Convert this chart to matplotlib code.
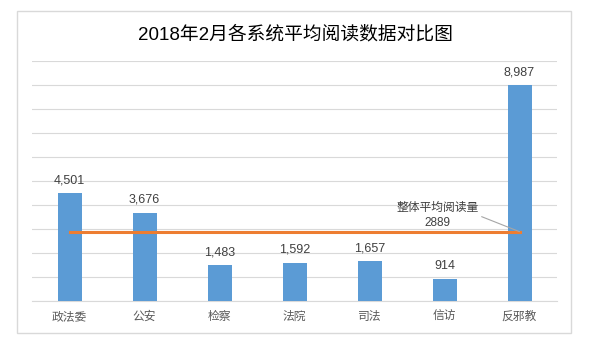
import matplotlib
matplotlib.use("Agg")
import matplotlib.pyplot as plt
from matplotlib.patches import Rectangle

plt.rcParams['font.family'] = ['Liberation Sans', 'Noto Sans CJK SC', 'DejaVu Sans']

categories = ["政法委", "公安", "检察", "法院", "司法", "信访", "反邪教"]
values = [4501, 3676, 1483, 1592, 1657, 914, 8987]
average = 2889
avg_label = "整体平均阅读量"
title = "2018年2月各系统平均阅读数据对比图"

W, H = 590, 353
fig = plt.figure(figsize=(W / 100, H / 100), dpi=100)
fig.patch.set_facecolor("white")

# outer chart border
fig.patches.append(Rectangle((17 / W, 1 - 333 / H), (571 - 17) / W, (333 - 11) / H,
                             transform=fig.transFigure, fill=False,
                             edgecolor="#d9d9d9", linewidth=1))

ax = fig.add_axes([32 / W, 1 - 301 / H, (557 - 32) / W, (301 - 61) / H])
x = list(range(len(categories)))
ax.bar(x, values, width=0.32, color="#5b9bd5", zorder=3)
ax.plot(x, [average] * len(x), color="#ed7d31", linewidth=2.2, zorder=4)

ax.set_xlim(-0.5, len(categories) - 0.5)
ax.set_ylim(0, 10000)
ax.set_yticks(range(0, 10001, 1000))
ax.yaxis.grid(True, color="#d9d9d9", linewidth=0.8, zorder=0)
ax.tick_params(axis="y", left=False, labelleft=False)
ax.set_xticks(x)
ax.set_xticklabels(categories, fontsize=8.5, color="#595959")
ax.tick_params(axis="x", length=0, pad=7)
for s in ["top", "right", "left"]:
    ax.spines[s].set_visible(False)
ax.spines["bottom"].set_color("#d9d9d9")

for xi, v in zip(x, values):
    ax.annotate(f"{v:,}", (xi, v), xytext=(0, 5), textcoords="offset points",
                ha="center", va="bottom", fontsize=9, color="#404040")

ax.annotate(f"{avg_label}\n{average}", xy=(x[-1], average), xytext=(4.91, 3560),
            ha="center", va="center", fontsize=8.5, color="#404040", linespacing=1.25,
            arrowprops=dict(arrowstyle="-", color="#a6a6a6", linewidth=0.8,
                            shrinkA=0, shrinkB=0,
                            relpos=(1.0, 0.5)), zorder=5)

fig.text(0.5, 1 - 35 / H, title, ha="center", va="center", fontsize=13.5, color="#000000")

fig.savefig("out.png", dpi=100)
